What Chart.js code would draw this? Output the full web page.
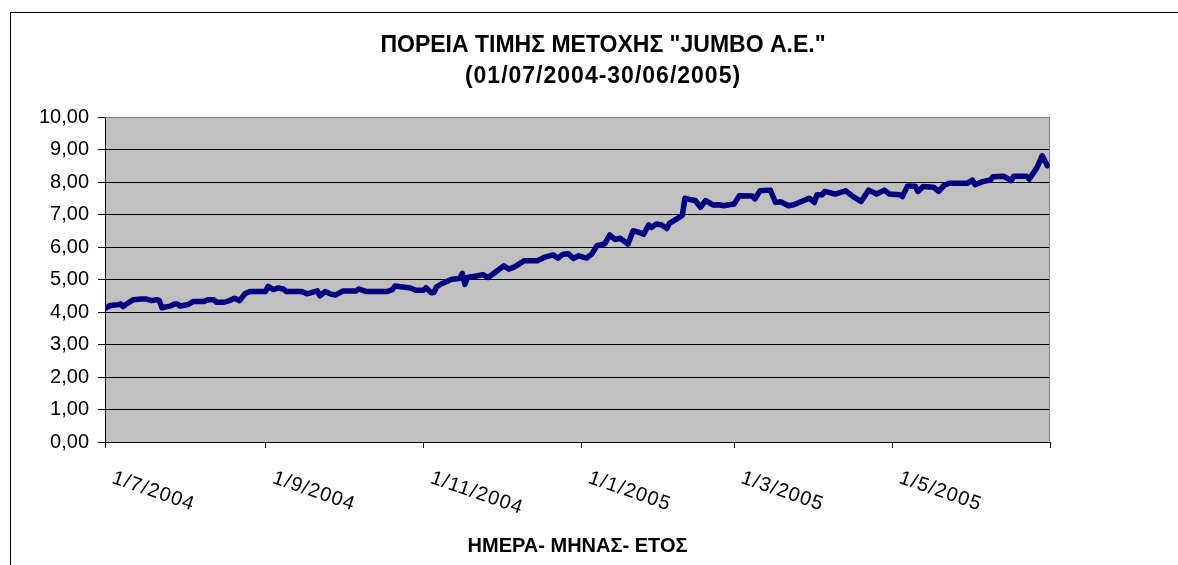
<!DOCTYPE html>
<html lang="el">
<head>
<meta charset="UTF-8">
<title>Πορεία τιμής μετοχής JUMBO</title>
<style>
  body { margin: 0; background: #fff; }
  #wrap { width: 1178px; height: 565px; }
</style>
</head>
<body>
<div id="wrap"><canvas id="priceChart" width="1178" height="565"></canvas></div>
<script src="https://cdn.jsdelivr.net/npm/chart.js"></script>
<script>
const titleLines = ['ΠΟΡΕΙΑ ΤΙΜΗΣ ΜΕΤΟΧΗΣ "JUMBO A.E."', '(01/07/2004-30/06/2005)'];
const xAxisTitle = 'ΗΜΕΡΑ- ΜΗΝΑΣ- ΕΤΟΣ';

// major ticks on the date axis (last one closes the axis, no label)
const tickDates = ['1/7/2004', '1/9/2004', '1/11/2004', '1/1/2005', '1/3/2005', '1/5/2005', '1/7/2005'];
const tickLabels = ['1/7/2004', '1/9/2004', '1/11/2004', '1/1/2005', '1/3/2005', '1/5/2005', ''];

// closing price
const dates = [
  '1/7/2004', '3/7/2004', '6/7/2004', '7/7/2004', '8/7/2004', '9/7/2004', '12/7/2004', '15/7/2004',
  '17/7/2004', '19/7/2004', '21/7/2004', '22/7/2004', '23/7/2004', '26/7/2004', '28/7/2004', '29/7/2004',
  '30/7/2004', '2/8/2004', '4/8/2004', '8/8/2004', '10/8/2004', '12/8/2004', '13/8/2004', '16/8/2004',
  '18/8/2004', '20/8/2004', '22/8/2004', '24/8/2004', '26/8/2004', '1/9/2004', '2/9/2004', '4/9/2004',
  '6/9/2004', '8/9/2004', '9/9/2004', '15/9/2004', '17/9/2004', '21/9/2004', '22/9/2004', '24/9/2004',
  '26/9/2004', '28/9/2004', '1/10/2004', '6/10/2004', '7/10/2004', '10/10/2004', '18/10/2004', '20/10/2004',
  '21/10/2004', '24/10/2004', '27/10/2004', '29/10/2004', '1/11/2004', '2/11/2004', '4/11/2004', '5/11/2004',
  '6/11/2004', '8/11/2004', '12/11/2004', '15/11/2004', '16/11/2004', '17/11/2004', '18/11/2004', '21/11/2004',
  '24/11/2004', '26/11/2004', '29/11/2004', '2/12/2004', '4/12/2004', '6/12/2004', '10/12/2004', '15/12/2004',
  '18/12/2004', '21/12/2004', '23/12/2004', '25/12/2004', '27/12/2004', '29/12/2004', '31/12/2004', '3/1/2005',
  '5/1/2005', '7/1/2005', '10/1/2005', '12/1/2005', '14/1/2005', '16/1/2005', '19/1/2005', '21/1/2005',
  '23/1/2005', '25/1/2005', '27/1/2005', '28/1/2005', '30/1/2005', '1/2/2005', '3/2/2005', '4/2/2005',
  '7/2/2005', '9/2/2005', '10/2/2005', '12/2/2005', '14/2/2005', '16/2/2005', '18/2/2005', '21/2/2005',
  '23/2/2005', '25/2/2005', '27/2/2005', '1/3/2005', '3/3/2005', '8/3/2005', '9/3/2005', '11/3/2005',
  '15/3/2005', '17/3/2005', '19/3/2005', '22/3/2005', '24/3/2005', '30/3/2005', '1/4/2005', '2/4/2005',
  '4/4/2005', '5/4/2005', '9/4/2005', '13/4/2005', '16/4/2005', '19/4/2005', '22/4/2005', '25/4/2005',
  '28/4/2005', '30/4/2005', '4/5/2005', '5/5/2005', '7/5/2005', '10/5/2005', '11/5/2005', '13/5/2005',
  '17/5/2005', '19/5/2005', '21/5/2005', '23/5/2005', '30/5/2005', '1/6/2005', '2/6/2005', '5/6/2005',
  '8/6/2005', '9/6/2005', '13/6/2005', '16/6/2005', '17/6/2005', '22/6/2005', '23/6/2005', '26/6/2005',
  '28/6/2005', '30/6/2005'
];
const prices = [
  4.11, 4.20, 4.22, 4.25, 4.17, 4.23, 4.38, 4.40,
  4.40, 4.35, 4.38, 4.35, 4.13, 4.18, 4.25, 4.25,
  4.18, 4.23, 4.32, 4.32, 4.38, 4.38, 4.30, 4.30,
  4.35, 4.42, 4.35, 4.56, 4.63, 4.63, 4.79, 4.69,
  4.74, 4.70, 4.63, 4.63, 4.56, 4.65, 4.50, 4.63,
  4.56, 4.52, 4.65, 4.65, 4.71, 4.63, 4.63, 4.69,
  4.80, 4.77, 4.74, 4.67, 4.67, 4.75, 4.59, 4.60,
  4.77, 4.87, 5.01, 5.03, 5.19, 4.85, 5.06, 5.10,
  5.15, 5.06, 5.24, 5.42, 5.32, 5.38, 5.58, 5.58,
  5.69, 5.76, 5.66, 5.78, 5.79, 5.65, 5.73, 5.66,
  5.78, 6.04, 6.10, 6.37, 6.23, 6.27, 6.09, 6.50,
  6.46, 6.39, 6.68, 6.60, 6.71, 6.68, 6.57, 6.73,
  6.87, 6.98, 7.50, 7.46, 7.43, 7.22, 7.43, 7.29,
  7.30, 7.27, 7.30, 7.32, 7.58, 7.57, 7.48, 7.73,
  7.75, 7.37, 7.39, 7.27, 7.30, 7.50, 7.37, 7.61,
  7.61, 7.71, 7.63, 7.73, 7.55, 7.40, 7.75, 7.63,
  7.75, 7.63, 7.61, 7.55, 7.88, 7.87, 7.71, 7.86,
  7.84, 7.71, 7.89, 7.96, 7.96, 8.06, 7.92, 8.01,
  8.06, 8.16, 8.18, 8.04, 8.18, 8.18, 8.09, 8.45,
  8.81, 8.50
];

const FONT = 'Arial, "Liberation Sans", sans-serif';
const START = Date.UTC(2004, 6, 1);

// "d/m/yyyy" -> days since 1/7/2004
function dayOf(s) {
  const [d, m, y] = s.split('/').map(Number);
  return Math.round((Date.UTC(y, m - 1, d) - START) / 86400000);
}
const tickDays = tickDates.map(dayOf);

// excel-like frame, grey plot area, title and slanted date labels
const excelLook = {
  id: 'excelLook',
  beforeDraw(chart) {
    const { ctx, chartArea: a } = chart;
    ctx.save();
    ctx.fillStyle = '#fff';
    ctx.fillRect(0, 0, chart.width, chart.height);
    ctx.strokeStyle = '#000';
    ctx.lineWidth = 1;
    ctx.strokeRect(10.5, 12.5, 1186, 600); // frame runs past the right/bottom edge
    ctx.fillStyle = '#c0c0c0';
    ctx.fillRect(a.left, a.top, a.right - a.left, a.bottom - a.top);
    ctx.restore();
  },
  beforeDatasetsDraw(chart) {
    const { ctx, chartArea: a } = chart;
    ctx.save();
    ctx.strokeStyle = '#808080';
    ctx.lineWidth = 1;
    ctx.beginPath();
    ctx.moveTo(a.left, a.top + 0.5);
    ctx.lineTo(a.right - 0.5, a.top + 0.5);
    ctx.lineTo(a.right - 0.5, a.bottom);
    ctx.stroke();
    ctx.restore();
  },
  afterDraw(chart) {
    const { ctx } = chart;
    const xScale = chart.scales.x;
    ctx.save();
    ctx.fillStyle = '#000';
    ctx.font = 'bold 23px ' + FONT;
    ctx.textAlign = 'center';
    ctx.textBaseline = 'middle';
    ctx.fillText(titleLines[0], 603, 46);
    ctx.letterSpacing = '1px';
    ctx.fillText(titleLines[1], 603, 77);

    ctx.font = '20px ' + FONT;
    ctx.letterSpacing = '1px';
    ctx.textAlign = 'left';
    ctx.textBaseline = 'top';
    tickDays.forEach((day, i) => {
      if (!tickLabels[i]) return;
      const px = xScale.getPixelForValue(day);
      ctx.save();
      ctx.translate(px + 11, 468);
      ctx.rotate(19 * Math.PI / 180);
      ctx.fillText(tickLabels[i], 0, 0);
      ctx.restore();
    });
    ctx.restore();
  }
};

const ctx = document.getElementById('priceChart').getContext('2d');
new Chart(ctx, {
  type: 'line',
  data: {
    datasets: [{
      label: 'JUMBO',
      data: dates.map((d, i) => ({ x: dayOf(d), y: prices[i] })),
      borderColor: '#000080',
      borderWidth: 5.5,
      borderJoinStyle: 'round',
      borderCapStyle: 'round',
      pointRadius: 0,
      tension: 0,
      fill: false
    }]
  },
  options: {
    responsive: false,
    animation: false,
    events: [],
    layout: { padding: { top: 117, right: 128, bottom: 0, left: 0 } },
    plugins: {
      legend: { display: false },
      tooltip: { enabled: false },
      title: { display: false }
    },
    scales: {
      x: {
        type: 'linear',
        min: 0,
        max: tickDays[tickDays.length - 1],
        afterBuildTicks: scale => { scale.ticks = tickDays.map(v => ({ value: v })); },
        ticks: { display: false },
        grid: { drawOnChartArea: false, drawTicks: true, tickLength: 6, color: '#000' },
        border: { color: '#000', width: 1 },
        title: {
          display: true,
          text: xAxisTitle,
          color: '#000',
          font: { family: FONT, size: 20, weight: 'bold', lineHeight: 1.2 },
          padding: { top: 86, bottom: 7 }
        }
      },
      y: {
        min: 0,
        max: 10,
        afterFit: scale => { scale.width = 105; },
        ticks: {
          stepSize: 1,
          autoSkip: false,
          color: '#000',
          padding: 9,
          font: { family: FONT, size: 20 },
          callback: v => v.toFixed(2).replace('.', ',')
        },
        grid: { color: '#000', lineWidth: 1, tickLength: 7 },
        border: { color: '#000', width: 1 }
      }
    }
  },
  plugins: [excelLook]
});
</script>
</body>
</html>
